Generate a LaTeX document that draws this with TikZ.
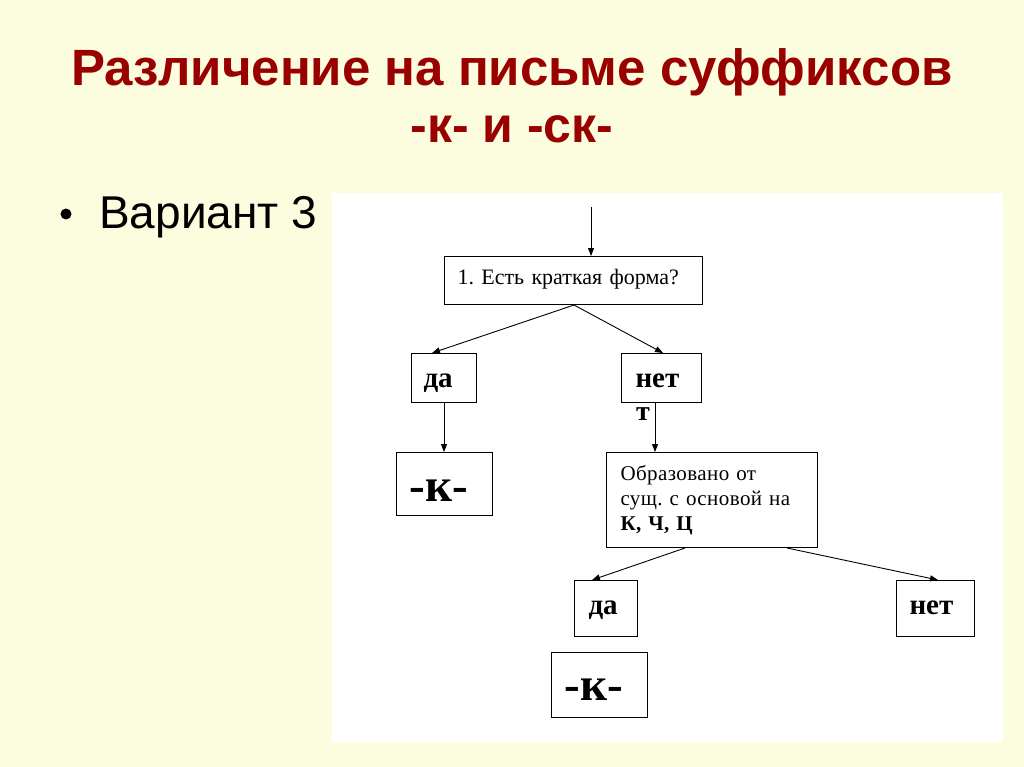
\documentclass[tikz,border=0pt]{standalone}
\usepackage{fontspec}
\setmainfont{Liberation Serif}
\newfontfamily\arialf{Liberation Sans}
\usetikzlibrary{arrows.meta}
\definecolor{bgc}{HTML}{FCFCDE}
\definecolor{titlec}{HTML}{990000}
\frenchspacing
\tikzset{
  box/.style={draw=black, line width=1pt, anchor=north west, align=left, inner ysep=0pt, font=\fontsize{22}{26}\selectfont},
  one/.style={text depth=0pt, text height=#1},
  arr/.style={-{Triangle[length=8pt,width=6pt]}, line width=0.9pt},
  bold/.style={font=\fontsize{29}{32}\selectfont\bfseries},
  big/.style={font=\fontsize{47}{50}\selectfont\bfseries},
}
\begin{document}
\begin{tikzpicture}[x=1pt,y=-1pt]
\useasboundingbox (0,0) rectangle (1024,767);
\fill[bgc] (0,0) rectangle (1024,767);
\fill[white] (332,193) rectangle (1003,742);
% title
\node[text=titlec, font=\arialf\bfseries\fontsize{51}{55}\selectfont, anchor=base] (t1) at (512,86) {Различение на письме суффиксов};
\node[text=titlec, font=\arialf\bfseries\fontsize{50}{55}\selectfont, anchor=base] (t2) at (512,143) {-к- и -ск-};
\node[font=\arialf\fontsize{46}{50}\selectfont, anchor=base west, inner sep=0pt] (bul) at (99,229) {Вариант 3};
\fill (66,214) circle (5.5) coordinate (dot);
% boxes
\coordinate (top) at (591,207);
\node[box, one=8pt, text width=232pt, inner xsep=13pt, minimum height=48pt] (q1) at (444,256) {1. Есть краткая форма?};
\node[box, bold, one=19pt, text width=41pt, inner xsep=12pt, minimum height=49pt] (da1) at (411,353) {да};
\node[box, bold, one=19pt, text width=52pt, inner xsep=14pt, minimum height=49pt] (net1) at (621,353) {нет};
\node[font=\fontsize{28}{32}\selectfont\bfseries, anchor=base west, inner sep=0pt] (tt) at (636,420) {т};
\node[box, big, one=34pt, text width=70pt, inner xsep=13pt, minimum height=63pt] (k1) at (396,452) {-к-};
\node[box, text width=183pt, inner xsep=14pt, minimum height=95pt, font=\fontsize{21}{25}\selectfont\addfontfeature{LetterSpace=2}] (q2) at (606,452) {Образовано от\\сущ. с основой на\\\textbf{К, Ч, Ц}};
\node[box, bold, one=11pt, text width=35pt, inner xsep=14pt, minimum height=56pt] (da2) at (574,580) {да};
\node[box, bold, one=11pt, text width=52pt, inner xsep=13pt, minimum height=56pt] (net2) at (896,580) {нет};
\node[box, big, one=31pt, text width=70pt, inner xsep=13pt, minimum height=65pt] (k2) at (551,652) {-к-};
% arrows
\draw[arr] (top) -- (q1.north -| top);
\draw[arr] (q1.south -| 574,0) -- (da1.north -| 432,0);
\draw[arr] (q1.south -| 574,0) -- (net1.north -| 663,0);
\draw[arr] (da1.south -| 444,0) -- (k1.north -| 444,0);
\draw[arr] (net1.south -| 655,0) -- (q2.north -| 655,0);
\draw[arr] (q2.south -| 685,0) -- (da2.north -| 592,0);
\draw[arr] (q2.south -| 787,0) -- (net2.north -| 938,0);
\end{tikzpicture}
\end{document}
